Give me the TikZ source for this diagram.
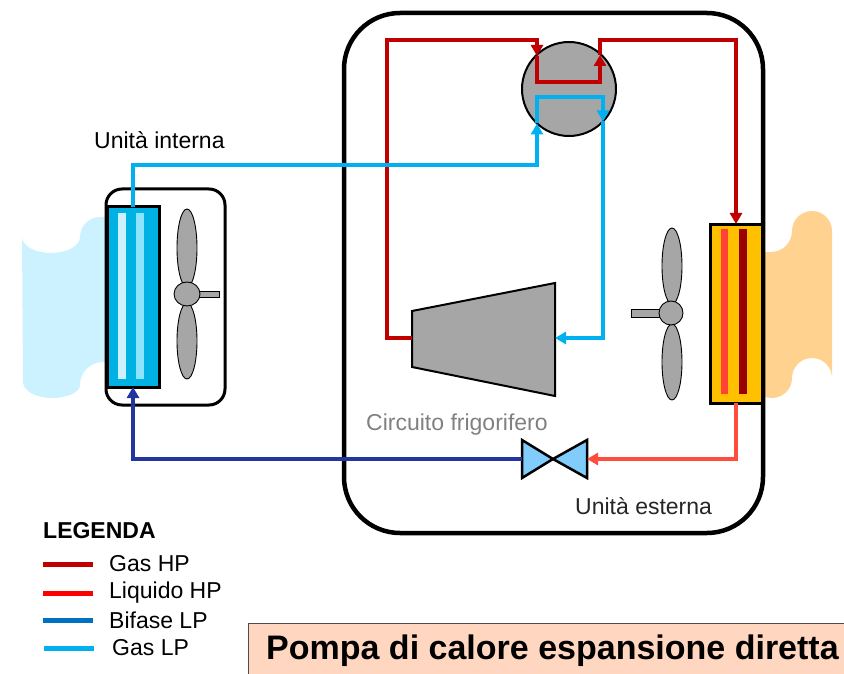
\documentclass[tikz,border=0pt]{standalone}
\usepackage{fontspec}
\setmainfont{Liberation Sans}
\usetikzlibrary{arrows.meta,calc}

\definecolor{gashp}{RGB}{192,0,0}
\definecolor{liqhp}{RGB}{255,0,0}
\definecolor{liqpipe}{RGB}{255,76,60}
\definecolor{bifase}{RGB}{0,112,192}
\definecolor{bifpipe}{RGB}{34,54,158}
\definecolor{gaslp}{RGB}{0,176,240}
\definecolor{coldcloud}{RGB}{204,242,255}
\definecolor{warmcloud}{RGB}{255,210,143}
\definecolor{coilblue}{RGB}{0,178,228}
\definecolor{stripeA}{RGB}{204,240,252}
\definecolor{stripeB}{RGB}{140,228,255}
\definecolor{coilorange}{RGB}{255,192,0}
\definecolor{stripeC}{RGB}{255,65,54}
\definecolor{stripeD}{RGB}{153,0,0}
\definecolor{metal}{RGB}{166,166,166}
\definecolor{valveblue}{RGB}{128,204,250}
\definecolor{titlebg}{RGB}{255,214,192}
\definecolor{labelgray}{RGB}{128,128,128}

\tikzset{
  pipe/.style={line width=4pt},
  tip/.style={-{Triangle[length=11pt,width=12pt]}},
  coil/.style={draw=black, line width=3pt, rectangle, inner sep=0pt},
  fanpart/.style={fill=metal, draw=black, line width=0.9pt},
  label/.style={font=\fontsize{23}{26}\selectfont, inner sep=0pt, anchor=west},
  legline/.style={line width=5pt},
}

\begin{document}
\begin{tikzpicture}[x=1pt,y=-1pt]
\useasboundingbox (0,0) rectangle (844,674);

% air on the indoor side
\fill[coldcloud] (22,237)
  arc[start angle=180, end angle=0, x radius=29, y radius=16]
  arc[start angle=180, end angle=270, radius=20]
  -- (112,217) -- (112,362) -- (103,362)
  arc[start angle=270, end angle=180, radius=23]
  arc[start angle=0, end angle=90, x radius=28, y radius=13]
  -- (52,398)
  arc[start angle=90, end angle=180, x radius=29, y radius=16]
  -- cycle;

% air on the outdoor side
\fill[warmcloud] (755,252) -- (771,252)
  arc[start angle=90, end angle=0, radius=21]
  arc[start angle=180, end angle=360, radius=20]
  -- (832,378)
  arc[start angle=0, end angle=-180, radius=20]
  arc[start angle=0, end angle=90, radius=20]
  -- (755,396) -- cycle;

% indoor unit casing
\node[draw=black, fill=white, line width=3pt, rounded corners=16pt,
      minimum width=119pt, minimum height=216pt, inner sep=0pt] (indoor) at (165.5,297) {};

% outdoor unit casing
\draw[line width=4.5pt, rounded corners=56pt] (344,13) rectangle (763,533);

% indoor coil
\node[coil, fill=coilblue, minimum width=52pt, minimum height=180pt] (incoil) at (133,297) {};
\fill[stripeA] (118,213) rectangle (126,379);
\fill[stripeB] (136,213) rectangle (144,379);

% outdoor coil
\node[coil, fill=coilorange, minimum width=52pt, minimum height=179pt] (outcoil) at (736,313.5) {};
\fill[stripeC] (721,229) rectangle (728,394);
\fill[stripeD] (739,229) rectangle (747,394);

% indoor fan
\draw[fanpart] (187,248) ellipse[x radius=10, y radius=39];
\draw[fanpart] (187,341) ellipse[x radius=10, y radius=38];
\draw[fanpart] (197,291) rectangle (219,297);
\draw[fanpart] (187,294) ellipse[x radius=13, y radius=12];

% outdoor fan
\draw[fanpart] (672,266) ellipse[x radius=10, y radius=38];
\draw[fanpart] (672,362) ellipse[x radius=10, y radius=38];
\draw[fanpart] (631,309) rectangle (661,317);
\draw[fanpart] (671,313) ellipse[x radius=12, y radius=12];

% compressor
\draw[fill=metal, line width=2pt, line join=miter] (412,311) -- (555,283) -- (555,396) -- (412,367) -- cycle;
\coordinate (compin) at (412,338);
\coordinate (compout) at (555,338);

% four-way valve
\node[circle, draw=black, fill=metal, line width=2pt, minimum size=94pt, inner sep=0pt] (fourway) at (569,89) {};
\coordinate (hpin) at (537,56);
\coordinate (hpout) at (600,55);
\coordinate (lpin) at (537,123.5);
\coordinate (lpout) at (603,121.5);

% expansion valve
\draw[fill=valveblue, line width=2.5pt, line join=miter]
  (522,440) -- (522,478) -- (553,459) -- cycle
  (587,440) -- (587,478) -- (553,459) -- cycle;
\coordinate (evl) at (522,459);
\coordinate (evr) at (587,459);

% coil ports
\coordinate (intop) at (133,207);
\coordinate (inbot) at (133,387);
\coordinate (outtop) at (736,224);
\coordinate (outbot) at (736,403);

% hot gas: compressor -> valve -> outdoor coil
\draw[pipe, gashp, tip] (compin) -- (387,338) -- (387,40) -- (537,40) -- (hpin);
\draw[pipe, gashp, tip] (hpin) -- (537,82) -- (600,82) -- (hpout);
\draw[pipe, gashp, tip] (hpout) -- (600,40) -- (736,40) -- (outtop);

% liquid: outdoor coil -> expansion valve
\draw[pipe, liqpipe, tip] (outbot) -- (736,459) -- (evr);

% two-phase: expansion valve -> indoor coil
\draw[pipe, bifpipe, tip] (evl) -- (133,459) -- (inbot);

% suction gas: indoor coil -> valve -> compressor
\draw[pipe, gaslp, tip] (intop) -- (133,165) -- (537,165) -- (lpin);
\draw[pipe, gaslp, tip] (lpin) -- (537,97) -- (603,97) -- (lpout);
\draw[pipe, gaslp, tip] (lpout) -- (603,338) -- (compout);

% labels
\node[label] (lblin) at (94,140) {Unità interna};
\node[label, text=labelgray] (lblcirc) at (366,425) {Circuito frigorifero};
\node[label, text=black!85] (lblout) at (575,506) {Unità esterna};

% legend
\node[label, font=\fontsize{23}{26}\selectfont\bfseries] (legtitle) at (43,531) {LEGENDA};
\draw[legline, gashp] (43,564) -- (93,564);
\node[label] (leg1) at (109,564) {Gas HP};
\draw[legline, liqhp] (43,593) -- (93,593);
\node[label] (leg2) at (109,593) {Liquido HP};
\draw[legline, bifase] (43,620) -- (93,620);
\node[label] (leg3) at (109,620) {Bifase LP};
\draw[legline, gaslp] (44,648) -- (94,648);
\node[label] (leg4) at (112,648) {Gas LP};

% title
\draw[fill=titlebg, draw=black!70, line width=1pt] (248,623) rectangle (850,680);
\node[label, font=\fontsize{34}{37}\selectfont\bfseries] (title) at (266,651) {Pompa di calore espansione diretta};
\end{tikzpicture}
\end{document}
